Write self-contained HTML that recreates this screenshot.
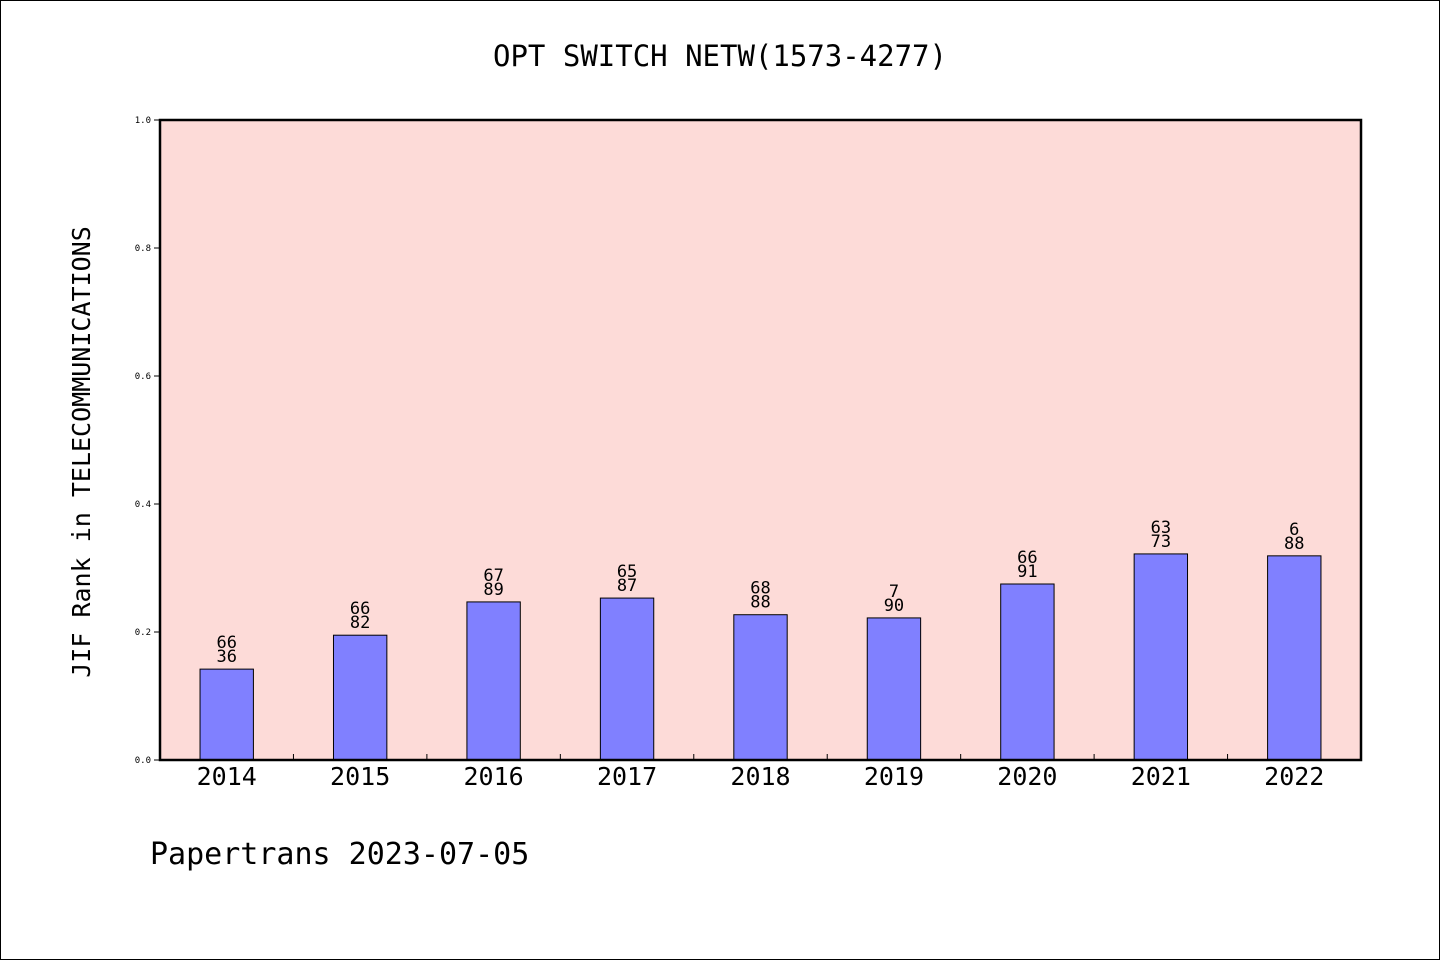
<!DOCTYPE html>
<html><head><meta charset="utf-8"><style>
html,body{margin:0;padding:0;background:#fff;}
svg{display:block;}
text{font-family:"DejaVu Sans Mono","Liberation Mono",monospace;fill:#000;}
</style></head><body>
<svg width="1440" height="960" viewBox="0 0 1440 960">
<rect x="0.5" y="0.5" width="1439" height="959" fill="#fff" stroke="#000"/>
<text x="720" y="66" font-size="29" text-anchor="middle">OPT SWITCH NETW(1573-4277)</text>
<rect x="160" y="120" width="1201" height="640" fill="#fddbd8"/>
<g id="bars"></g>
<rect x="160" y="120" width="1201" height="640" fill="none" stroke="#000" stroke-width="2.5"/>
<text transform="translate(90,452) rotate(-90)" font-size="25" text-anchor="middle">JIF Rank in TELECOMMUNICATIONS</text>
<text x="150" y="864" font-size="30">Papertrans 2023-07-05</text>
</svg>
<script>
const categories=["2014","2015","2016","2017","2018","2019","2020","2021","2022"];
const values=[0.142,0.195,0.247,0.253,0.227,0.222,0.275,0.322,0.319];
const labelTop=["66","66","67","65","68","7","66","63","6"];
const labelBottom=["36","82","89","87","88","90","91","73","88"];
const yTicks=["0.0","0.2","0.4","0.6","0.8","1.0"];
const X0=160,X1=1361,Y0=760,Y1=120;
const slot=(X1-X0)/categories.length;
const xc=i=>X0+slot*(i+0.5);
const y=v=>Y0-(Y0-Y1)*v;
const NS="http://www.w3.org/2000/svg";
const g=document.getElementById('bars');
function mk(t,a){const e=document.createElementNS(NS,t);for(const k in a)e.setAttribute(k,a[k]);g.appendChild(e);return e;}
categories.forEach((c,i)=>{
  const bw=slot*0.4;
  const r=mk('rect',{x:xc(i)-bw/2,y:y(values[i]),width:bw,height:Y0-y(values[i]),fill:'#8080ff',stroke:'#000','stroke-width':1});
  
  
  const t1=mk('text',{x:xc(i),y:y(values[i])-21,'font-size':17,'text-anchor':'middle'});
  t1.textContent=labelTop[i];
  
  
  const t2=mk('text',{x:xc(i),y:y(values[i])-7,'font-size':17,'text-anchor':'middle'});
  t2.textContent=labelBottom[i];
  
  
  const xt=mk('text',{x:xc(i),y:785,'font-size':25,'text-anchor':'middle'});
  xt.textContent=c;
  
  
  if(i>0){
    const tk=mk('line',{x1:X0+slot*i,x2:X0+slot*i,y1:Y0,y2:Y0-6,stroke:'#000','stroke-width':1});
    
    
  }
});
yTicks.forEach(t=>{
  const v=parseFloat(t);
  const l=mk('line',{x1:X0-6,x2:X0,y1:y(v),y2:y(v),stroke:'#000','stroke-width':1});
  
  
  const tx=mk('text',{x:X0-9,y:y(v)+3,'font-size':9,'text-anchor':'end'});
  tx.textContent=t;
  
  
});
</script>
</body></html>
